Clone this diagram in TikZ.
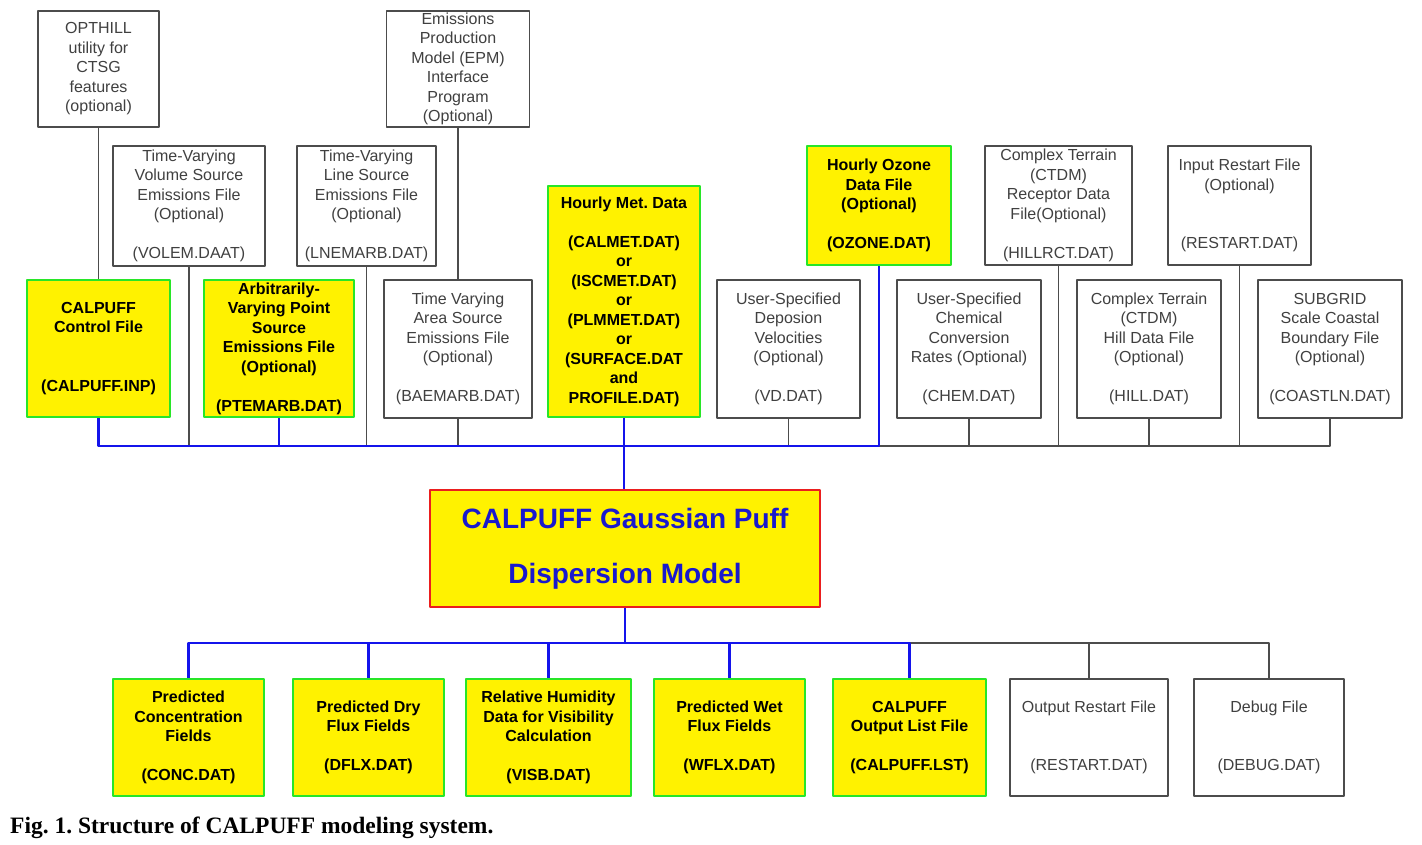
\documentclass[tikz,border=0pt]{standalone}
\usepackage{fontspec}
\setmainfont{Liberation Sans}
\newfontfamily\capfont{Liberation Serif}
\frenchspacing
\definecolor{boxgreen}{RGB}{40,230,40}
\definecolor{linkblue}{RGB}{20,20,235}
\definecolor{titleblue}{RGB}{25,25,205}
\definecolor{boxred}{RGB}{235,30,30}
\tikzset{
  file/.style={draw=black!70, line width=1.5pt, fill=white, text=black!75, align=center, inner sep=0pt,
    font=\fontsize{16}{19.5}\selectfont},
  dat/.style={file, fill=yellow, draw=boxgreen, line width=2.2pt, text=black,
    font=\fontsize{16}{19.5}\selectfont\bfseries},
  sz/.style 2 args={minimum width=#1, minimum height=#2},
  link/.style={draw=linkblue, line width=2.4pt},
  wire/.style={draw=black!70, line width=1.4pt}
}
\begin{document}
\begin{tikzpicture}[x=1pt, y=-1pt, line join=round]
\useasboundingbox (0,0) rectangle (1422,845);
% top inputs
\node[file, sz={121pt}{116pt}] (opthill) at (98.5,69) {OPTHILL\\utility for\\CTSG\\features\\(optional)};
\node[file, sz={143pt}{116pt}] (epm) at (458,69) {Emissions\\Production\\Model (EPM)\\Interface\\Program\\(Optional)};
\node[file, sz={152pt}{120pt}] (volem) at (189,206) {Time-Varying\\Volume Source\\Emissions File\\(Optional)\\[19.5pt](VOLEM.DAAT)};
\node[file, sz={139pt}{120pt}] (lnem) at (366.5,206) {Time-Varying\\Line Source\\Emissions File\\(Optional)\\[19.5pt](LNEMARB.DAT)};
\node[dat, sz={152pt}{231pt}] (met) at (624,301.5) {Hourly Met. Data\\[19.5pt](CALMET.DAT)\\or\\(ISCMET.DAT)\\or\\(PLMMET.DAT)\\or\\(SURFACE.DAT\\and\\PROFILE.DAT)};
\node[dat, sz={144pt}{119pt}] (ozone) at (879,205.5) {Hourly Ozone\\Data File\\(Optional)\\[19.5pt](OZONE.DAT)};
\node[file, sz={147pt}{119pt}] (hillrct) at (1058.5,205.5) {Complex Terrain\\(CTDM)\\Receptor Data\\File(Optional)\\[19.5pt](HILLRCT.DAT)};
\node[file, sz={143pt}{119pt}] (rstin) at (1239.5,205.5) {Input Restart File\\(Optional)\\[39pt](RESTART.DAT)};
% second row
\node[dat, sz={143pt}{137pt}] (ctrl) at (98.5,348.5) {CALPUFF\\Control File\\[39pt](CALPUFF.INP)};
\node[dat, sz={150pt}{137pt}] (ptem) at (279,348.5) {Arbitrarily-\\Varying Point\\Source\\Emissions File\\(Optional)\\[19.5pt](PTEMARB.DAT)};
\node[file, sz={148pt}{138pt}] (baem) at (458,349) {Time Varying\\Area Source\\Emissions File\\(Optional)\\[19.5pt](BAEMARB.DAT)};
\node[file, sz={143pt}{138pt}] (vd) at (788.5,349) {User-Specified\\Deposion\\Velocities\\(Optional)\\[19.5pt](VD.DAT)};
\node[file, sz={144pt}{138pt}] (chem) at (969,349) {User-Specified\\Chemical\\Conversion\\Rates (Optional)\\[19.5pt](CHEM.DAT)};
\node[file, sz={144pt}{138pt}] (hill) at (1149,349) {Complex Terrain\\(CTDM)\\Hill Data File\\(Optional)\\[19.5pt](HILL.DAT)};
\node[file, sz={144pt}{138pt}] (coast) at (1330,349) {SUBGRID\\Scale Coastal\\Boundary File\\(Optional)\\[19.5pt](COASTLN.DAT)};
% model
\node[dat, sz={390pt}{117pt}, draw=boxred, text=titleblue, font=\fontsize{28}{55}\selectfont\bfseries] (model) at (625,548.5) {CALPUFF Gaussian Puff\\Dispersion Model};
% outputs
\node[dat, sz={151pt}{117pt}] (conc) at (188.5,737.5) {Predicted\\Concentration\\Fields\\[19.5pt](CONC.DAT)};
\node[dat, sz={151pt}{117pt}] (dflx) at (368.5,737.5) {Predicted Dry\\Flux Fields\\[19.5pt](DFLX.DAT)};
\node[dat, sz={165pt}{117pt}] (visb) at (548.5,737.5) {Relative Humidity\\Data for Visibility\\Calculation\\[19.5pt](VISB.DAT)};
\node[dat, sz={151pt}{117pt}] (wflx) at (729.5,737.5) {Predicted Wet\\Flux Fields\\[19.5pt](WFLX.DAT)};
\node[dat, sz={153pt}{117pt}] (lst) at (909.5,737.5) {CALPUFF\\Output List File\\[19.5pt](CALPUFF.LST)};
\node[file, sz={158pt}{117pt}] (rstout) at (1089,737.5) {Output Restart File\\[39pt](RESTART.DAT)};
\node[file, sz={150pt}{117pt}] (debug) at (1269,737.5) {Debug File\\[39pt](DEBUG.DAT)};
\node[anchor=west, inner sep=0pt, font=\capfont\bfseries\fontsize{23.5}{27}\selectfont] (cap) at (10,828) {Fig. 1. Structure of CALPUFF modeling system.};
% buses
\coordinate (ibus) at (0,446);
\coordinate (obus) at (0,643);
\draw[wire] (opthill) -- (ctrl);
\draw[wire] (epm.south) -- (epm.south |- baem.north);
\foreach \n in {volem,lnem,baem,vd,chem,hillrct,hill,rstin}
  {\draw[wire] (\n.south) -- (\n.south |- ibus);}
\draw[wire] (ozone.south |- ibus) -| (coast.south);
\draw[link] (ctrl.south) -- (ctrl.south |- ibus) -- (ozone.south |- ibus) -- (ozone.south);
\draw[link] (ptem.south) -- (ptem.south |- ibus);
\draw[link] (met.south) -- (met.south |- model.north);
\draw[wire] (lst.north |- obus) -| (debug.north);
\draw[wire] (rstout.north) -- (rstout.north |- obus);
\draw[link] (model.south) -- (model.south |- obus);
\draw[link] (conc.north) |- (lst.north |- obus) -- (lst.north);
\foreach \n in {dflx,visb,wflx}
  {\draw[link] (\n.north) -- (\n.north |- obus);}
\end{tikzpicture}
\end{document}
